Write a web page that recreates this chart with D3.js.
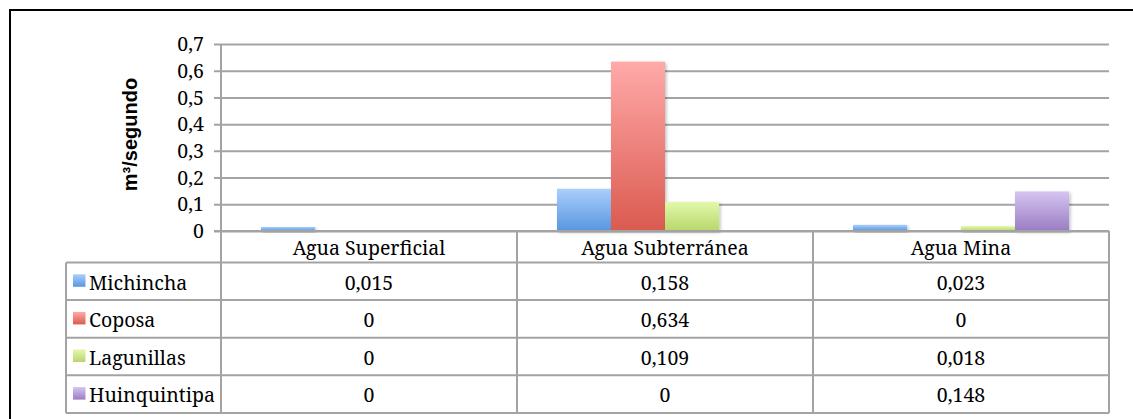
<!DOCTYPE html>
<html>
<head>
<meta charset="utf-8">
<script src="https://cdn.jsdelivr.net/npm/d3@7"></script>
<style>
  html, body { margin: 0; padding: 0; background: #fff; }
  svg { display: block; }
</style>
</head>
<body>
<svg id="chart" width="1133" height="419"></svg>
<script>
// Caudal por fuente de agua (m³/s)
const categories = ["Agua Superficial", "Agua Subterránea", "Agua Mina"];
const seriesNames = ["Michincha", "Coposa", "Lagunillas", "Huinquintipa"];
const michincha = [0.015, 0.158, 0.023];
const coposa = [0, 0.634, 0];
const lagunillas = [0, 0.109, 0.018];
const huinquintipa = [0, 0, 0.148];
const yTicks = [0, 0.1, 0.2, 0.3, 0.4, 0.5, 0.6, 0.7];
const yTitle = "m³/segundo";

const seriesValues = [michincha, coposa, lagunillas, huinquintipa];
const colors = [
  { top: "#abcefd", bottom: "#5797de" },
  { top: "#ffaaa9", bottom: "#db5a4f" },
  { top: "#e3f8ab", bottom: "#b7d76b" },
  { top: "#d6c4f1", bottom: "#9a7dc2" }
];

const svg = d3.select("#chart");
const serif = "'Noto Serif', 'Liberation Serif', serif";
const fs = 19.5;
const gridColor = "#a3a3a3";

const plot = { left: 221, right: 1109, top: 44, bottom: 231 };
const table = { left: 66, headerBottom: 262.5, rowH: 37.6 };

const fmt = v => v === 0 ? "0" : d3.format(".3~f")(v).replace(".", ",");
const tickFmt = v => v === 0 ? "0" : d3.format(".1f")(v).replace(".", ",");

const x0 = d3.scaleBand().domain(categories).range([plot.left, plot.right]).padding(0);
const x1 = d3.scaleBand().domain(seriesNames).range([0, x0.bandwidth()]).paddingInner(0).paddingOuter(0.74);
const y = d3.scaleLinear().domain([0, 0.7]).range([plot.bottom, plot.top]);

// gradients and soft shadow
const defs = svg.append("defs");
colors.forEach((c, i) => {
  const g = defs.append("linearGradient").attr("id", "grad" + i)
    .attr("x1", 0).attr("y1", 0).attr("x2", 0).attr("y2", 1);
  g.append("stop").attr("offset", "0%").attr("stop-color", c.top);
  g.append("stop").attr("offset", "100%").attr("stop-color", c.bottom);
});
const sh = defs.append("filter").attr("id", "shadow")
  .attr("x", "-20%").attr("y", "-20%").attr("width", "150%").attr("height", "150%");
sh.append("feDropShadow").attr("dx", 1.5).attr("dy", 1.5).attr("stdDeviation", 1.5)
  .attr("flood-color", "#000").attr("flood-opacity", 0.25);

// outer frame
svg.append("rect").attr("x", 10).attr("y", 10).attr("width", 1200).attr("height", 500)
  .attr("fill", "none").attr("stroke", "#000").attr("stroke-width", 2);

// horizontal gridlines and tick labels
const yAxis = d3.axisLeft(y).tickValues(yTicks).tickFormat(tickFmt).tickSize(0);
const gy = svg.append("g").attr("transform", `translate(${plot.left - 7},0)`).call(yAxis);
gy.select(".domain").remove();
gy.selectAll(".tick line").attr("stroke", gridColor).attr("stroke-width", 2)
  .attr("x1", 0).attr("x2", plot.right - plot.left + 7);
gy.selectAll(".tick text").attr("font-family", serif).attr("font-size", fs)
  .attr("fill", "#000").attr("x", -10).attr("dy", "0.34em");

// bars
const groups = svg.append("g").selectAll("g").data(categories).join("g")
  .attr("transform", d => `translate(${x0(d)},0)`);
groups.selectAll("rect")
  .data((d, ci) => seriesNames.map((s, si) => ({ s, si, v: seriesValues[si][ci] })))
  .join("rect")
  .filter(d => d.v > 0)
  .attr("x", d => x1(d.s))
  .attr("y", d => y(d.v))
  .attr("width", x1.bandwidth())
  .attr("height", d => y(0) - y(d.v))
  .attr("fill", d => `url(#grad${d.si})`)
  .attr("filter", "url(#shadow)");

// data table lines
const tableBottom = table.headerBottom + table.rowH * seriesNames.length;
const lines = svg.append("g").attr("stroke", gridColor).attr("stroke-width", 2).attr("fill", "none");
lines.append("line").attr("x1", plot.left - 7).attr("x2", plot.right).attr("y1", plot.bottom).attr("y2", plot.bottom);
lines.append("line").attr("x1", plot.left).attr("x2", plot.left).attr("y1", plot.top).attr("y2", tableBottom);
categories.forEach(c => {
  lines.append("line").attr("x1", x0(c) + x0.bandwidth()).attr("x2", x0(c) + x0.bandwidth())
    .attr("y1", plot.bottom).attr("y2", tableBottom);
});
d3.range(seriesNames.length + 1).forEach(i => {
  const yy = table.headerBottom + i * table.rowH;
  lines.append("line").attr("x1", table.left).attr("x2", plot.right).attr("y1", yy).attr("y2", yy);
});
lines.append("line").attr("x1", table.left).attr("x2", table.left)
  .attr("y1", table.headerBottom).attr("y2", tableBottom);

// category headers
svg.append("g").selectAll("text").data(categories).join("text")
  .attr("x", d => x0(d) + x0.bandwidth() / 2)
  .attr("y", (plot.bottom + table.headerBottom) / 2 + 1.5)
  .attr("dy", "0.35em")
  .attr("text-anchor", "middle")
  .attr("font-family", serif).attr("font-size", fs).attr("fill", "#000")
  .text(d => d);

// rows: legend key + values
const rows = svg.append("g").selectAll("g").data(seriesNames).join("g")
  .attr("transform", (d, i) => `translate(0,${table.headerBottom + i * table.rowH + table.rowH / 2})`);
rows.append("rect").attr("x", 73).attr("y", -7).attr("width", 12.5).attr("height", 12.5)
  .attr("fill", (d, i) => `url(#grad${i})`);
rows.append("text").attr("x", 89).attr("y", 1.5).attr("dy", "0.35em")
  .attr("font-family", serif).attr("font-size", fs).attr("fill", "#000")
  .text(d => d);
rows.each(function (s, si) {
  d3.select(this).selectAll("text.val").data(categories).join("text")
    .attr("class", "val")
    .attr("x", c => x0(c) + x0.bandwidth() / 2)
    .attr("y", 1.5).attr("dy", "0.35em")
    .attr("text-anchor", "middle")
    .attr("font-family", serif).attr("font-size", fs).attr("fill", "#000")
    .text((c, ci) => fmt(seriesValues[si][ci]));
});

// y axis title
svg.append("text")
  .attr("transform", `translate(137,${(plot.top + plot.bottom) / 2 - 3}) rotate(-90)`)
  .attr("text-anchor", "middle")
  .attr("font-family", "'Liberation Sans', sans-serif").attr("font-weight", "bold")
  .attr("font-size", 20).attr("fill", "#000")
  .text(yTitle);
</script>
</body>
</html>
